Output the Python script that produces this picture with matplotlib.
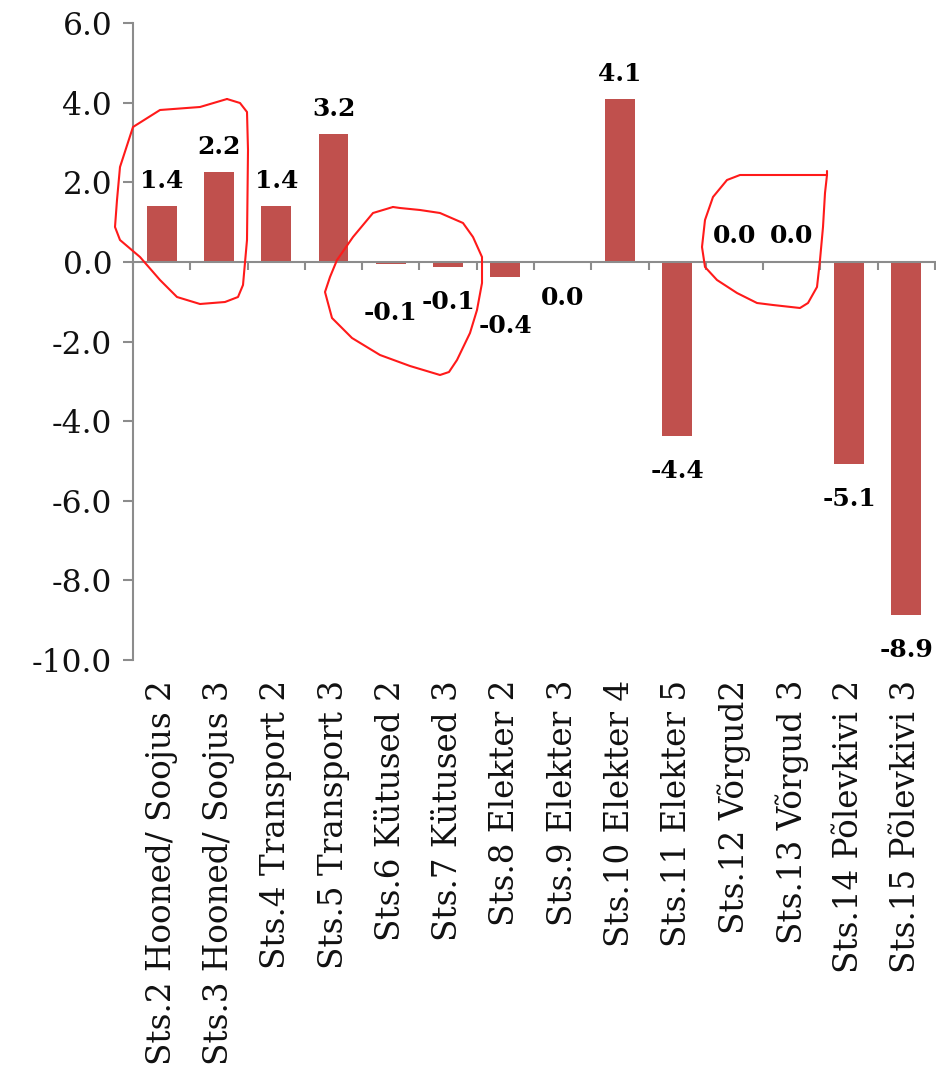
import matplotlib
matplotlib.use("Agg")
import matplotlib.pyplot as plt
from matplotlib.lines import Line2D
import matplotlib.transforms as mtransforms

plt.rcParams['axes.unicode_minus'] = False
plt.rcParams['font.family'] = ['DejaVu Serif']

categories = ["Sts.2 Hooned/ Soojus 2", "Sts.3 Hooned/ Soojus 3", "Sts.4 Transport 2",
              "Sts.5 Transport 3", "Sts.6 Kütused 2", "Sts.7 Kütused 3", "Sts.8 Elekter 2",
              "Sts.9 Elekter 3", "Sts.10 Elekter 4", "Sts.11 Elekter 5", "Sts.12 Võrgud2",
              "Sts.13 Võrgud 3", "Sts.14 Põlevkivi 2", "Sts.15 Põlevkivi 3"]
values = [1.4, 2.25, 1.4, 3.22, -0.06, -0.12, -0.38, -0.02, 4.1, -4.37, 0.01, 0.01, -5.08, -8.87]
# extra downward shift (pixels) of some manually moved data labels
label_shift = [0, 0, 0, 0, 14, 0, 14, 0, 0, 0, 0, 0, 0, 0]
y_ticks = [-10, -8, -6, -4, -2, 0, 2, 4, 6]

W, H = 937, 1074
fig = plt.figure(figsize=(W / 100, H / 100), dpi=100)
ax = fig.add_axes([133 / W, 1 - 660 / H, (935 - 133) / W, (660 - 23) / H])

bar_color = "#C0504D"
axis_color = "#8C8C8C"
x = list(range(len(categories)))
ax.bar(x, values, width=0.52, color=bar_color, zorder=2)

ax.set_xlim(-0.5, len(categories) - 0.5)
ax.set_ylim(-10, 6)
ax.set_yticks(y_ticks)
ax.set_yticklabels([f"{t:.1f}" for t in y_ticks], fontsize=22.5, color="#111111")

for s in ["top", "right"]:
    ax.spines[s].set_visible(False)
ax.spines["bottom"].set_position(("data", 0))
for s in ["left", "bottom"]:
    ax.spines[s].set_color(axis_color)
    ax.spines[s].set_linewidth(1.5)

ax.set_xticks([k - 0.5 for k in range(len(categories) + 1)])
ax.set_xticklabels([])
ax.tick_params(axis="x", direction="out", length=6, width=1.5, color=axis_color)
ax.tick_params(axis="y", direction="out", length=7, width=1.5, color=axis_color, pad=8)

# category labels under the plot area
trans = mtransforms.blended_transform_factory(ax.transData, ax.transAxes)
for i, c in enumerate(categories):
    ax.annotate(c, xy=(i, 0), xycoords=trans, xytext=(0, -20), textcoords="offset pixels",
                rotation=90, ha="center", va="top", fontsize=23.5, color="#111111")

# data labels
for i, v in enumerate(values):
    txt = f"{v:.1f}"
    if txt == "-0.0":
        txt = "0.0"
    if v >= 0:
        ax.annotate(txt, xy=(i, v), xytext=(0, 13), textcoords="offset pixels",
                    ha="center", va="bottom", fontsize=18, fontweight="bold", color="#000000")
    else:
        ax.annotate(txt, xy=(i, v), xytext=(0, -23 - label_shift[i]), textcoords="offset pixels",
                    ha="center", va="top", fontsize=18, fontweight="bold", color="#000000")

# hand-drawn red circles (annotation marks on the original picture)
circles = [
    [(227, 99), (200, 107), (160, 110), (133, 127), (120, 167), (117, 200), (115, 227),
     (120, 240), (140, 257), (160, 280), (177, 297), (200, 304), (225, 302), (238, 297),
     (243, 285), (247, 240), (248, 150), (247, 112), (240, 103), (227, 99)],
    [(393, 207), (373, 213), (353, 237), (337, 260), (330, 277), (325, 292), (332, 318),
     (352, 338), (380, 355), (410, 366), (440, 375), (449, 372), (457, 360), (470, 333),
     (477, 310), (482, 283), (482, 257), (473, 237), (463, 223), (440, 213), (420, 210),
     (400, 208), (393, 207)],
    [(827, 171), (827, 175), (740, 175), (727, 180), (713, 197), (705, 220), (702, 247),
     (705, 267), (717, 280), (737, 293), (757, 303), (773, 305), (800, 308), (808, 303),
     (817, 287), (820, 260), (823, 227), (825, 193), (827, 175)],
]
for pts in circles:
    xs = [p[0] / W for p in pts]
    ys = [1 - p[1] / H for p in pts]
    fig.add_artist(Line2D(xs, ys, transform=fig.transFigure, color="#FF1A1A", lw=1.5,
                          solid_joinstyle="round", solid_capstyle="round"))

fig.savefig("out.png", dpi=100, facecolor="white")
